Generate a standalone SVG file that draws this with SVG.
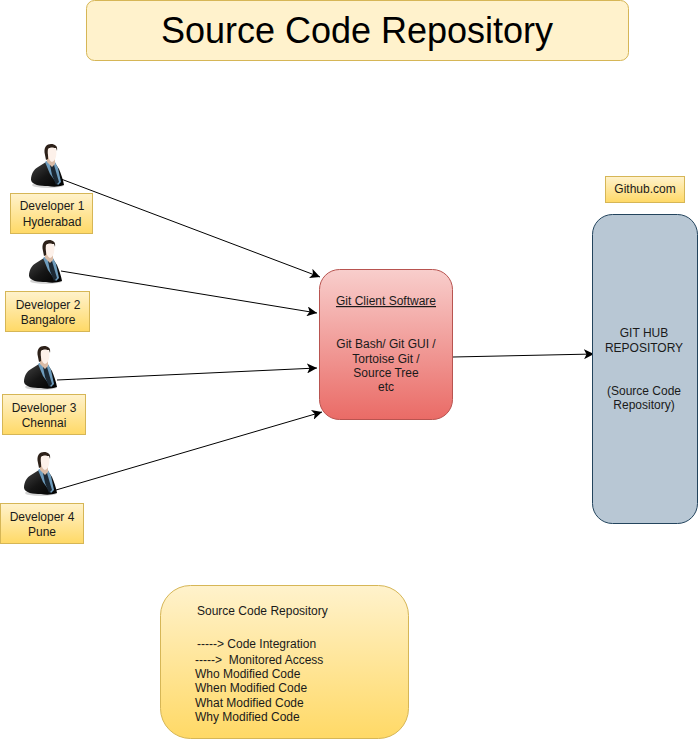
<svg xmlns="http://www.w3.org/2000/svg" width="698" height="740" viewBox="0 0 698 740">
<style>
text{font-family:"Liberation Sans",Arial,sans-serif;font-size:12px;fill:#1a1a1a;white-space:pre}
.m{text-anchor:middle}
.y{fill:url(#yg);stroke:#d6b656}
.c{stroke:#000;stroke-width:1;fill:none;marker-end:url(#a)}
</style>
<defs>
<linearGradient id="yg" x1="0" y1="0" x2="0" y2="1"><stop offset="0" stop-color="#fff2cc"/><stop offset="1" stop-color="#ffd966"/></linearGradient>
<linearGradient id="rg" x1="0" y1="0" x2="0" y2="1"><stop offset="0" stop-color="#f8cecc"/><stop offset="1" stop-color="#ea6b66"/></linearGradient>
<linearGradient id="sg" x1="0" y1="0" x2="1" y2="1"><stop offset="0" stop-color="#444"/><stop offset=".5" stop-color="#161616"/><stop offset="1" stop-color="#000"/></linearGradient>
<marker id="a" markerUnits="userSpaceOnUse" markerWidth="11" markerHeight="10" refX="10" refY="5" orient="auto"><path d="M0 0L10 5L0 10L2.500 5Z" fill="#000"/></marker>
<symbol id="p" width="35" height="46" viewBox="0 0 35 46">
<ellipse cx="17" cy="41" rx="16" ry="3" fill="#aaa" opacity=".5"/>
<path d="M0 36C0 30 3 25 7 23L15 18L24 19L28 25C30 30 32 35 33 41C27 43 22 43 17 42C9 42 1 41 0 36Z" fill="url(#sg)"/>
<path d="M14 18L17 16L24 18L27 24L30 38L27 41L19 30Z" fill="#6e9cbd"/>
<path d="M19 21L23 21L28 38L25 41L21 31Z" fill="#1c2833"/>
<path d="M16 12H24V20L21 23L16 18Z" fill="#d9bba6"/>
<path d="M14 11C12 3 16 0 20 0C24 0 27 2 26 7L25 4H18L17 15L15 16Z" fill="#2d2119"/>
<path d="M17 5C19 3 23 3 25 5C26 10 25 17 21 18C18 17 16 11 17 5Z" fill="#fdf1ea"/>
</symbol>
</defs>
<g id="title"><rect x="86.500" y="0.500" width="542" height="60" rx="8" fill="#fff2cc" stroke="#d6b656"/><text x="357" y="43" class="m" style="font-size:36px;fill:#000">Source Code Repository</text></g>
<g id="connectors">
<path class="c" d="M61 179L320 277"/>
<path class="c" d="M61 271L317 313"/>
<path class="c" d="M57 380L317 368"/>
<path class="c" d="M56 490L322 412"/>
<path class="c" d="M453 357L594 354"/>
</g>
<g id="dev1"><use href="#p" x="31" y="144"/><rect x="10.500" y="193.500" width="82" height="40" class="y"/><text x="52" y="210" class="m">Developer 1</text><text x="52" y="226" class="m">Hyderabad</text></g>
<g id="dev2"><use href="#p" x="29" y="240"/><rect x="5.500" y="291.500" width="84" height="40" class="y"/><text x="48" y="309" class="m">Developer 2</text><text x="48" y="324" class="m">Bangalore</text></g>
<g id="dev3"><use href="#p" x="24" y="346"/><rect x="2.500" y="394.500" width="83" height="40" class="y"/><text x="44" y="412" class="m">Developer 3</text><text x="44" y="427" class="m">Chennai</text></g>
<g id="dev4"><use href="#p" x="24" y="452"/><rect x="0.500" y="503.500" width="83" height="40" class="y"/><text x="42" y="521" class="m">Developer 4</text><text x="42" y="536" class="m">Pune</text></g>
<g id="git-client"><rect x="319.500" y="269.500" width="133" height="150" rx="20" fill="url(#rg)" stroke="#b85450"/>
<text x="386" y="305" class="m" text-decoration="underline">Git Client Software</text>
<text x="386" y="348" class="m">Git Bash/ Git GUI /</text><text x="386" y="363" class="m">Tortoise Git /</text><text x="386" y="377" class="m">Source Tree</text><text x="386" y="391" class="m">etc</text></g>
<g id="github-label"><rect x="605.500" y="176.500" width="79" height="26" class="y"/><text x="645" y="193" class="m">Github.com</text></g>
<g id="github"><rect x="592.500" y="214.500" width="105" height="309" rx="20" fill="#b8c7d4" stroke="#23445d"/>
<text x="644" y="337" class="m">GIT HUB</text><text x="644" y="352" class="m">REPOSITORY</text><text x="644" y="395" class="m">(Source Code</text><text x="644" y="409" class="m">Repository)</text></g>
<g id="notes"><rect x="160.500" y="585.500" width="248" height="153" rx="30" class="y"/>
<text x="197" y="615">Source Code Repository</text>
<text x="197" y="648">-----&gt; Code Integration</text>
<text x="195" y="664">-----&gt;  Monitored Access</text>
<text x="195" y="678">Who Modified Code</text>
<text x="195" y="692">When Modified Code</text>
<text x="195" y="707">What Modified Code</text>
<text x="195" y="721">Why Modified Code</text></g>
</svg>
